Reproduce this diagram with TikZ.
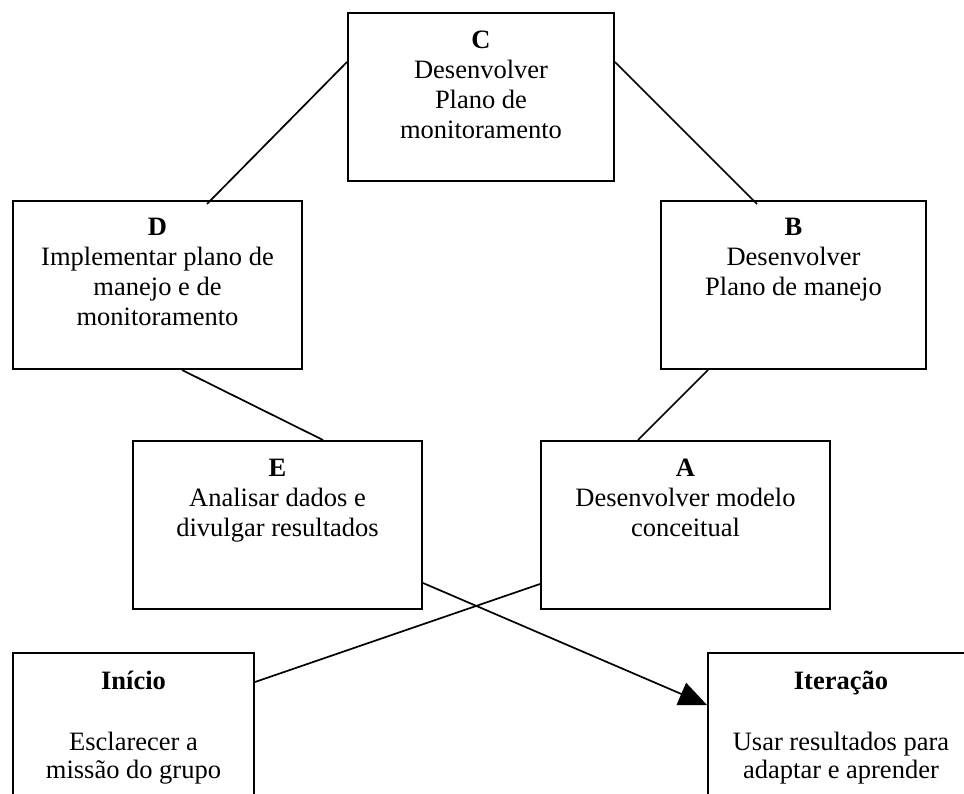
\documentclass[tikz,border=0pt]{standalone}
\usepackage{fontspec}
\setmainfont{Liberation Serif}
\usetikzlibrary{arrows.meta,calc}
\begin{document}
\begin{tikzpicture}[x=1pt,y=-1pt,
  box/.style={draw, line width=2pt, rectangle, inner sep=0pt},
  txt/.style={align=center, inner sep=0pt, font=\fontsize{26.5}{30}\selectfont},
  txtb/.style={align=center, inner sep=0pt, font=\fontsize{26.5}{28}\selectfont},
  con/.style={line width=1.7pt},
]
\useasboundingbox[fill=white] (0,0) rectangle (964,794);
\clip (0,0) rectangle (964,794);
% boxes
\node[box, minimum width=266pt, minimum height=168pt] (C) at (481,97) {};
\node[box, minimum width=289pt, minimum height=168pt] (D) at (157.5,285) {};
\node[box, minimum width=265pt, minimum height=168pt] (B) at (793.5,285) {};
\node[box, minimum width=289pt, minimum height=168pt] (E) at (277.5,525) {};
\node[box, minimum width=289pt, minimum height=168pt] (A) at (685.5,525) {};
\node[box, minimum width=241pt, minimum height=177pt] (Inicio) at (133.5,741.5) {};
\node[box, minimum width=266pt, minimum height=177pt] (Iter) at (841,741.5) {};
% texts (anchor base = baseline of the last line)
\node[txt, anchor=base] (Ct) at ([yshift=-127pt]C.north) {\textbf{C}\\Desenvolver\\Plano de\\monitoramento};
\node[txt, anchor=base] (Dt) at ([yshift=-126pt]D.north) {\textbf{D}\\Implementar plano de\\manejo e de\\monitoramento};
\node[txt, anchor=base] (Bt) at ([yshift=-96pt]B.north) {\textbf{B}\\Desenvolver\\Plano de manejo};
\node[txt, anchor=base] (Et) at ([yshift=-96pt]E.north) {\textbf{E}\\Analisar dados e\\divulgar resultados};
\node[txt, anchor=base] (At) at ([yshift=-96pt]A.north) {\textbf{A}\\Desenvolver modelo\\conceitual};
\node[txt, anchor=base] (Il) at ([yshift=-37pt]Inicio.north) {\textbf{Início}};
\node[txtb, anchor=base] (Ib) at ([yshift=-126pt]Inicio.north) {Esclarecer a\\missão do grupo};
\node[txt, anchor=base] (Tl) at ([yshift=-37pt]Iter.north) {\textbf{Iteração}};
\node[txtb, anchor=base] (Tb) at ([yshift=-126pt]Iter.north) {Usar resultados para\\adaptar e aprender};
% connectors
\draw[con] ([yshift=35pt]C.west) -- ([xshift=49.5pt,yshift=-4pt]D.north);
\draw[con] ([yshift=35pt]C.east) -- ([xshift=-36.5pt,yshift=-4pt]B.north);
\draw[con] ([xshift=24.5pt]D.south) -- ([xshift=45.5pt]E.north);
\draw[con] ([xshift=-85.5pt]B.south) -- ([xshift=-47.5pt]A.north);
\draw[con] ([yshift=-59pt]A.west) -- ([yshift=59.5pt]Inicio.east);
\draw[con, -{Triangle[length=28pt,width=24pt]}] ([yshift=-58pt]E.east) -- ([yshift=36.5pt]Iter.west);
\end{tikzpicture}
\end{document}
